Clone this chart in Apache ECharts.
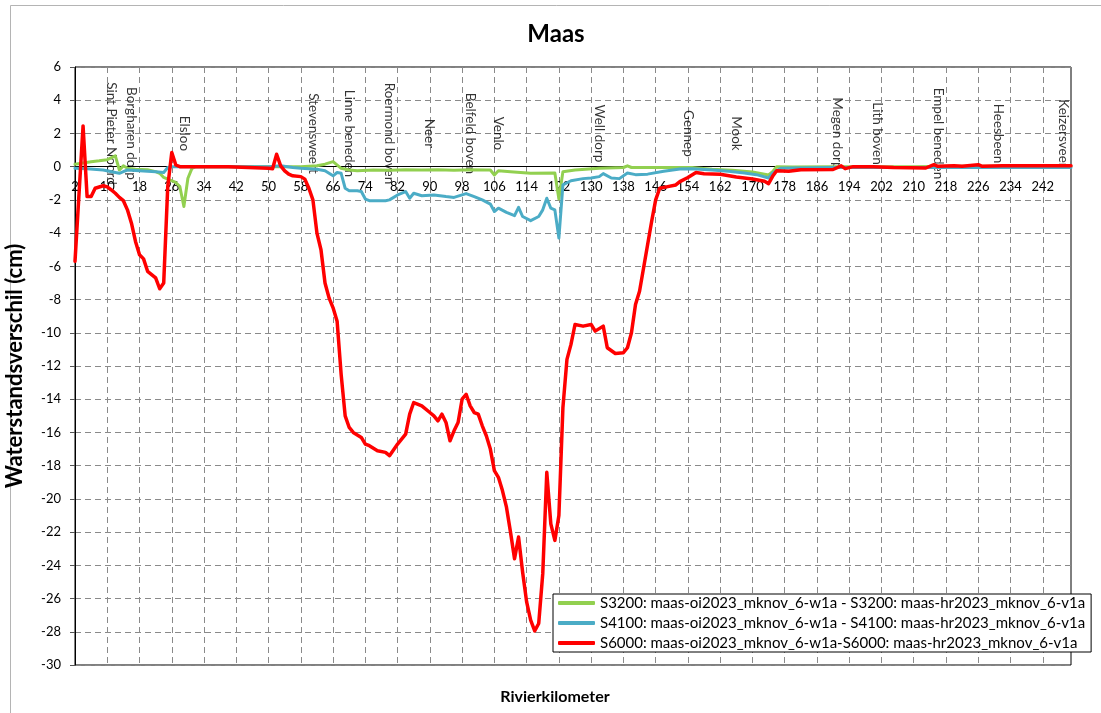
<!DOCTYPE html>
<html>
<head>
<meta charset="utf-8">
<title>Maas</title>
<script src="https://cdn.jsdelivr.net/npm/echarts@6/dist/echarts.min.js"></script>
<style>
  html, body { margin: 0; padding: 0; background: #ffffff; }
  #chart { width: 1101px; height: 713px; }
</style>
</head>
<body>
<div id="chart"></div>
<script>
// River kilometres shown on the horizontal axis (one category per km)
const kmFirst = 2;
const kmLast = 249;
const kmLabelStep = 8;

// Vertical axis range (cm)
const yMin = -30;
const yMax = 6;
const yStep = 2;

// S3200 difference (cm)
const s3200Km = [2, 4, 6, 8, 10, 12, 13, 14, 15, 17, 20, 22, 23, 24, 25, 27, 28, 29, 30, 31, 32, 40, 50, 58, 62, 64, 66, 68, 70, 72, 76, 80, 84, 88, 92, 96, 100, 104, 105, 106, 107, 110, 115, 121, 122, 123, 126, 132, 138, 139, 140, 150, 155, 160, 165, 170, 174, 175, 176, 180, 190, 200, 210, 220, 230, 240, 249];
const s3200Val = [0.15, 0.22, 0.3, 0.35, 0.42, 0.65, -0.2, 0.05, -0.1, -0.15, -0.18, -0.3, -0.4, -0.65, -0.75, -0.95, -1.2, -2.4, -0.7, -0.1, 0, 0, 0, 0, 0.05, 0.15, 0.3, -0.1, -0.2, -0.25, -0.2, -0.22, -0.18, -0.2, -0.18, -0.22, -0.18, -0.2, -0.2, -0.5, -0.25, -0.3, -0.4, -0.38, -1.95, -0.3, -0.2, -0.1, -0.05, 0.05, -0.05, -0.05, -0.05, -0.15, -0.22, -0.32, -0.5, -0.3, 0, -0.02, 0, 0, 0, 0.02, 0.02, 0.03, 0.03];

// S4100 difference (cm)
const s4100Km = [2, 5, 9, 12, 13, 14, 15, 18, 22, 24, 25, 26, 30, 40, 50, 53, 56, 58, 62, 64, 66, 67, 68, 69, 70, 72, 73, 74, 75, 79, 80, 82, 84, 85, 86, 88, 91, 94, 96, 99, 101, 103, 105, 106, 107, 109, 111, 112, 113, 115, 117, 118, 119, 120, 121, 122, 123, 125, 128, 130, 132, 133, 135, 137, 139, 141, 144, 148, 152, 155, 160, 164, 168, 171, 174, 175, 177, 180, 190, 200, 210, 220, 230, 240, 249];
const s4100Val = [-0.1, -0.12, -0.2, -0.35, -0.4, -0.3, -0.2, -0.25, -0.3, -0.35, -0.05, 0, 0, 0, 0, 0.05, -0.05, -0.1, -0.15, -0.25, -0.55, -0.35, -0.4, -1.3, -1.45, -1.45, -1.5, -1.95, -2.05, -2.05, -2.0, -1.7, -1.5, -1.9, -1.6, -1.75, -1.7, -1.8, -1.85, -1.62, -1.8, -2.0, -2.25, -2.7, -2.5, -2.75, -2.95, -2.45, -3.0, -3.25, -3.0, -2.6, -1.9, -2.5, -2.6, -4.3, -1.1, -0.85, -0.72, -0.68, -0.6, -0.42, -0.68, -0.72, -0.38, -0.48, -0.45, -0.28, -0.14, -0.12, -0.2, -0.28, -0.38, -0.48, -0.68, -0.38, -0.1, -0.08, -0.05, -0.05, -0.05, -0.05, -0.05, -0.05, -0.05];

// S6000 difference (cm)
const s6000Km = [2, 4, 5, 6, 7, 9, 10, 11, 12, 13, 14, 15, 16, 17, 18, 19, 20, 21, 22, 23, 24, 25, 26, 27, 28, 30, 40, 50, 51, 52, 53, 54, 55, 56, 58, 59, 60, 61, 62, 63, 64, 65, 66, 67, 68, 69, 70, 71, 73, 74, 75, 77, 79, 80, 82, 84, 85, 86, 88, 90, 91, 92, 93, 94, 95, 96, 97, 98, 99, 100, 101, 102, 103, 104, 105, 106, 107, 108, 109, 110, 111, 112, 113, 114, 115, 116, 117, 118, 119, 120, 121, 122, 123, 124, 125, 126, 128, 130, 131, 133, 134, 136, 138, 139, 140, 141, 142, 143, 144, 145, 146, 147, 149, 151, 152, 154, 156, 158, 162, 166, 170, 173, 174, 175, 176, 179, 182, 190, 192, 193, 195, 200, 205, 213, 215, 216, 220, 222, 226, 227, 232, 240, 249];
const s6000Val = [-5.7, 2.45, -1.8, -1.8, -1.3, -1.15, -1.22, -1.4, -1.6, -1.85, -2.05, -2.6, -3.4, -4.5, -5.3, -5.55, -6.3, -6.5, -6.7, -7.35, -7.0, -1.2, 0.85, 0.1, 0, 0, 0, -0.1, -0.12, 0.75, 0.05, -0.25, -0.45, -0.55, -0.6, -0.75, -1.3, -2.0, -4.0, -5.0, -7.0, -7.9, -8.5, -9.3, -12.5, -15.0, -15.7, -16.0, -16.3, -16.7, -16.8, -17.1, -17.2, -17.4, -16.7, -16.1, -14.9, -14.2, -14.4, -14.8, -15.0, -15.3, -14.9, -15.4, -16.5, -15.9, -15.4, -14.0, -13.7, -14.4, -14.8, -14.9, -15.6, -16.2, -17.0, -18.3, -18.7, -19.5, -20.5, -22.0, -23.6, -22.3, -24.4, -26.2, -27.3, -27.95, -27.5, -24.5, -18.4, -21.5, -22.5, -21.0, -14.5, -11.6, -10.7, -9.5, -9.6, -9.5, -9.9, -9.6, -10.9, -11.25, -11.2, -10.9, -10.0, -8.3, -7.5, -6.1, -4.7, -3.3, -2.0, -1.3, -1.2, -1.1, -0.9, -0.65, -0.35, -0.42, -0.46, -0.62, -0.74, -0.88, -1.02, -0.58, -0.24, -0.28, -0.18, -0.17, 0.05, -0.12, 0, 0, -0.05, -0.08, 0.12, 0.02, 0.05, 0.03, 0.12, 0.02, 0.05, 0.05, 0.05];

// Named locations along the river
const placeNames = ['Sint Pieter Noord', 'Borgharen dorp', 'Elsloo', 'Stevensweert', 'Linne beneden', 'Roermond boven', 'Neer', 'Belfeld boven', 'Venlo', 'Well dorp', 'Gennep', 'Mook', 'Megen dorp', 'Lith boven', 'Empel beneden', 'Heesbeen', 'Keizersveer'];
const placeKm = [11, 16, 29, 61, 70, 80, 90, 100, 107, 132, 154, 166, 191, 201, 216, 231, 247];
const placeLabelLevel = 2;

const seriesNames = [
  'S3200: maas-oi2023_mknov_6-w1a - S3200: maas-hr2023_mknov_6-v1a',
  'S4100: maas-oi2023_mknov_6-w1a - S4100: maas-hr2023_mknov_6-v1a',
  'S6000: maas-oi2023_mknov_6-w1a-S6000: maas-hr2023_mknov_6-v1a'
];
const seriesColors = ['#92D050', '#4BACC6', '#FF0000'];

const FONT = 'Lato, "Open Sans", sans-serif';

// Plot box in pixels
const GRID = { left: 75, right: 30, top: 67, bottom: 48 };
const CHART_H = 713;
const plotH = CHART_H - GRID.top - GRID.bottom;
// Lift the km axis from the bottom edge up to the zero line
const zeroOffset = -plotH * (0 - yMin) / (yMax - yMin);

const kmCategories = [];
for (let k = kmFirst; k <= kmLast; k++) kmCategories.push(String(k));
const everyStep = idx => idx % kmLabelStep === 0;

function toPairs(kms, vals) {
  return kms.map((k, i) => [k - kmFirst, vals[i]]);
}

const gridDash = { color: '#8a8a8a', width: 1, type: [6, 4] };

const chart = echarts.init(document.getElementById('chart'), null, { renderer: 'canvas' });

const lineSeries = [
  [s3200Km, s3200Val],
  [s4100Km, s4100Val],
  [s6000Km, s6000Val]
].map((pair, i) => ({
  type: 'line',
  name: seriesNames[i],
  data: toPairs(pair[0], pair[1]),
  symbol: 'none',
  showSymbol: false,
  z: 3,
  lineStyle: { color: seriesColors[i], width: i === 2 ? 3.5 : 3, join: 'round', cap: 'round' },
  itemStyle: { color: seriesColors[i] },
  emphasis: { disabled: true },
  animation: false
}));

const placeSeries = {
  type: 'scatter',
  name: 'places',
  z: 1,
  symbolSize: 1,
  itemStyle: { color: 'rgba(0,0,0,0)' },
  silent: true,
  animation: false,
  data: placeNames.map((n, i) => ({ value: [placeKm[i] - kmFirst, placeLabelLevel], name: n })),
  label: {
    show: true,
    formatter: p => p.name,
    position: 'inside',
    rotate: -90,
    align: 'center',
    verticalAlign: 'middle',
    color: '#000',
    fontFamily: FONT,
    fontSize: 13.5
  }
};

chart.setOption({
  backgroundColor: '#ffffff',
  animation: false,
  textStyle: { fontFamily: FONT },
  grid: {
    left: GRID.left, right: GRID.right, top: GRID.top, bottom: GRID.bottom,
    containLabel: false,
    outerBoundsMode: 'none',
    show: true,
    borderColor: '#000',
    borderWidth: 1,
    backgroundColor: 'rgba(0,0,0,0)'
  },
  legend: {
    orient: 'vertical',
    left: 553,
    top: 594,
    data: seriesNames,
    icon: 'roundRect',
    itemWidth: 37,
    itemHeight: 4,
    itemGap: 4,
    padding: [1, 6, 1, 5],
    backgroundColor: '#ffffff',
    borderColor: '#000',
    borderWidth: 1,
    borderRadius: 0,
    selectedMode: false,
    textStyle: { color: '#000', fontFamily: FONT, fontSize: 15, lineHeight: 16, padding: [0, 0, 0, 0] }
  },
  xAxis: {
    type: 'category',
    data: kmCategories,
    boundaryGap: false,
    position: 'bottom',
    offset: zeroOffset,
    axisLine: { onZero: false, lineStyle: { color: '#000', width: 1 } },
    axisTick: { show: false },
    axisLabel: {
      interval: everyStep,
      color: '#000', fontFamily: FONT, fontSize: 13, margin: 14
    },
    splitLine: { show: true, interval: everyStep, lineStyle: gridDash }
  },
  yAxis: {
    type: 'value',
    min: yMin,
    max: yMax,
    interval: yStep,
    name: 'Waterstandsverschil (cm)',
    nameLocation: 'middle',
    nameGap: 49,
    nameTextStyle: { color: '#000', fontFamily: FONT, fontSize: 22, fontWeight: 'bold' },
    axisLine: { show: true, lineStyle: { color: '#000', width: 1 } },
    axisTick: { show: true, length: 5, lineStyle: { color: '#555' } },
    axisLabel: { color: '#000', fontFamily: FONT, fontSize: 13, margin: 14 },
    splitLine: { show: true, lineStyle: gridDash }
  },
  graphic: [
    {
      type: 'rect', silent: true, z: -10,
      shape: { x: 10.5, y: 5.5, width: 1200, height: 800 },
      style: { fill: 'none', stroke: '#b4b4b4', lineWidth: 1 }
    },
    {
      type: 'text', silent: true,
      x: 556, y: 34,
      style: { text: 'Maas', fontFamily: FONT, fontSize: 24, fontWeight: 'bold', fill: '#000', align: 'center', verticalAlign: 'middle' }
    },
    {
      type: 'text', silent: true,
      x: 555, y: 697,
      style: { text: 'Rivierkilometer', fontFamily: FONT, fontSize: 16, fontWeight: 'bold', fill: '#000', align: 'center', verticalAlign: 'middle' }
    }
  ],
  series: [placeSeries].concat(lineSeries)
});
</script>
</body>
</html>
